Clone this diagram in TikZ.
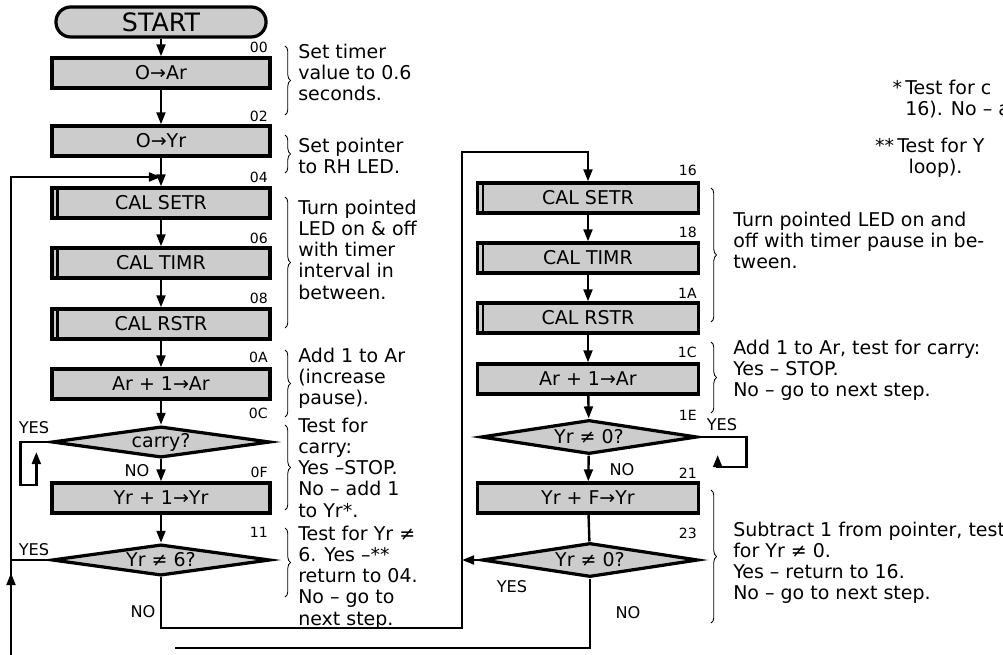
\documentclass[tikz,border=0pt]{standalone}
\usepackage{fontspec}
\setmainfont{DejaVu Sans}
\usetikzlibrary{shapes.geometric,arrows.meta,decorations.pathreplacing}
\begin{document}
\begin{tikzpicture}[x=0.025cm, y=-0.025cm,
  flow/.style={line width=1.7pt, -{Triangle[length=0.3cm,width=0.22cm]}},
  wire/.style={line width=1.7pt},
  opbox/.style={draw, line width=2.3pt, fill=black!20, minimum width=5.45cm, minimum height=0.75cm, inner sep=0pt, font=\fontsize{13.5}{15}\selectfont},
  callbox/.style={opbox, path picture={\draw[line width=1.6pt] ([xshift=0.14cm]path picture bounding box.north west) -- ([xshift=0.14cm]path picture bounding box.south west);}},
  testbox/.style={draw, diamond, aspect=7, line width=2.3pt, fill=black!20, minimum width=5.45cm, minimum height=0.78cm, inner sep=0pt, font=\fontsize{13.5}{15}\selectfont},
  termbox/.style={draw, line width=2.3pt, fill=black!20, rounded corners=0.37cm, minimum width=5.25cm, minimum height=0.75cm, inner sep=0pt, font=\fontsize{18}{18}\selectfont},
  addr/.style={font=\fontsize{10}{10}\selectfont, anchor=east, inner sep=0pt},
  yesno/.style={font=\fontsize{11.5}{12}\selectfont, inner sep=0pt},
  note/.style={font=\fontsize{13.5}{15}\selectfont, align=left, anchor=north west, inner sep=0pt},
  brc/.style={decorate, decoration={brace, amplitude=4pt}, line width=0.6pt}]
  \useasboundingbox (0,0) rectangle (1003,655);
  \node[termbox] (start) at (161,22) {START};
  \node[opbox] (oar) at (161,73) {O→Ar};
  \node[opbox] (oyr) at (161,141) {O→Yr};
  \node[callbox] (setr) at (161,203) {CAL SETR};
  \node[callbox] (timr) at (161,263) {CAL TIMR};
  \node[callbox] (rstr) at (161,324) {CAL RSTR};
  \node[opbox] (inca) at (161,384) {Ar + 1→Ar};
  \node[testbox] (carry) at (161,442) {carry?};
  \node[opbox] (incy) at (161,498) {Yr + 1→Yr};
  \node[testbox] (ysix) at (161,560) {Yr ≠ 6?};
  \node[callbox, minimum width=5.525cm] (rsetr) at (588,198) {CAL SETR};
  \node[callbox, minimum width=5.525cm] (rtimr) at (588,258) {CAL TIMR};
  \node[callbox, minimum width=5.525cm] (rrstr) at (588,318) {CAL RSTR};
  \node[opbox, minimum width=5.525cm] (rinca) at (588,379) {Ar + 1→Ar};
  \node[testbox, minimum width=5.4cm, minimum height=0.85cm] (rzero1) at (589,437) {Yr ≠ 0?};
  \node[opbox, minimum width=5.525cm] (rdec) at (588,498) {Yr + F→Yr};
  \node[testbox, minimum width=5.4cm, minimum height=0.85cm] (rzero2) at (590,560) {Yr ≠ 0?};
  \coordinate (join04) at (161,177);
  \coordinate (ret16) at (462,560);
  \coordinate (lowL) at (11,655);
  \draw[flow] (start) -- (oar);
  \draw[flow] (oar) -- (oyr);
  \draw[flow] (oyr) -- (setr);
  \draw[flow] (setr) -- (timr);
  \draw[flow] (timr) -- (rstr);
  \draw[flow] (rstr) -- (inca);
  \draw[flow] (inca) -- (carry);
  \draw[flow] (carry) -- (incy);
  \draw[flow] (incy) -- (ysix);
  \draw[flow] (carry.west) -- ++(-30,0) -- ++(0,43) -- ++(16,0) -- ++(0,-33);
  \draw[flow] (ysix.west) -| (11,177) -- (join04);
  \draw[wire] (lowL) -- (lowL |- ysix.west);
  \draw[flow] (lowL) -- ++(0,-82);
  \draw[flow] (ysix.south) |- (462,628) -- (462,152) -| (rsetr.north);
  \draw[flow] (rsetr) -- (rtimr);
  \draw[flow] (rtimr) -- (rrstr);
  \draw[flow] (rrstr) -- (rinca);
  \draw[flow] (rinca) -- (rzero1);
  \draw[flow] (rzero1) -- (rdec);
  \draw[wire] (rdec) -- (rzero2);
  \draw[flow] (rzero1.east) -- ++(48,0) -- ++(0,30) -- ++(-29,0) -- ++(0,-12);
  \draw[flow] (rzero2.west) -- (ret16);
  \draw[wire] (rzero2.south) |- (175,648);
  \node[yesno] (y1) at (34,428) {YES};
  \node[yesno] (n1) at (137,471) {NO};
  \node[yesno] (y2) at (34,550) {YES};
  \node[yesno] (n2) at (143,612) {NO};
  \node[yesno] (y3) at (722,425) {YES};
  \node[yesno] (n3) at (622,470) {NO};
  \node[yesno] (y4) at (512,587) {YES};
  \node[yesno] (n4) at (628,613) {NO};
  \node[addr] (a00) at (268,47) {00};
  \node[addr] (a02) at (268,116) {02};
  \node[addr] (a04) at (268,177) {04};
  \node[addr] (a06) at (268,238) {06};
  \node[addr] (a08) at (268,298) {08};
  \node[addr] (a0A) at (268,357) {0A};
  \node[addr] (a0C) at (268,413) {0C};
  \node[addr] (a0F) at (268,472) {0F};
  \node[addr] (a11) at (268,532) {11};
  \node[addr] (a16) at (697,170) {16};
  \node[addr] (a18) at (697,232) {18};
  \node[addr] (a1A) at (697,293) {1A};
  \node[addr] (a1C) at (697,352) {1C};
  \node[addr] (a1E) at (697,415) {1E};
  \node[addr] (a21) at (697,473) {21};
  \node[addr] (a23) at (697,533) {23};
  \draw[brc] (285,46) -- (285,115);
  \draw[brc] (285,135) -- (285,173);
  \draw[brc] (285,197) -- (285,328);
  \draw[brc] (285,350) -- (285,417);
  \draw[brc] (285,425) -- (285,510);
  \draw[brc] (285,528) -- (285,597);
  \draw[brc] (711,188) -- (711,322);
  \draw[brc] (711,342) -- (711,413);
  \draw[brc] (711,490) -- (711,623);
  \node[note] (t1) at (298,44) {Set timer\\value to 0.6\\seconds.};
  \node[note] (t2) at (298,138) {Set pointer\\to RH LED.};
  \node[note] (t3) at (298,200) {Turn pointed\\LED on \& off\\with timer\\interval in\\between.};
  \node[note] (t4) at (298,348) {Add 1 to Ar\\(increase\\pause).};
  \node[note] (t5) at (298,418) {Test for\\carry:\\Yes –STOP.\\No – add 1\\to Yr*.};
  \node[note] (t6) at (298,526) {Test for Yr ≠\\6. Yes –**\\return to 04.\\No – go to\\next step.};
  \node[note] (rt1) at (733,212) {Turn pointed LED on and\\off with timer pause in be-\\tween.};
  \node[note] (rt2) at (733,340) {Add 1 to Ar, test for carry:\\Yes – STOP.\\No – go to next step.};
  \node[note] (rt3) at (733,522) {Subtract 1 from pointer, test\\for Yr ≠ 0.\\Yes – return to 16.\\No – go to next step.};
  \node[note] (fn1) at (905,80) {\leavevmode\llap{*\,}Test for c\\16). No – a};
  \node[note] (fn2) at (897,138) {\leavevmode\llap{**\,}Test for Y\\\hspace*{0.28cm}loop).};
\end{tikzpicture}
\end{document}
